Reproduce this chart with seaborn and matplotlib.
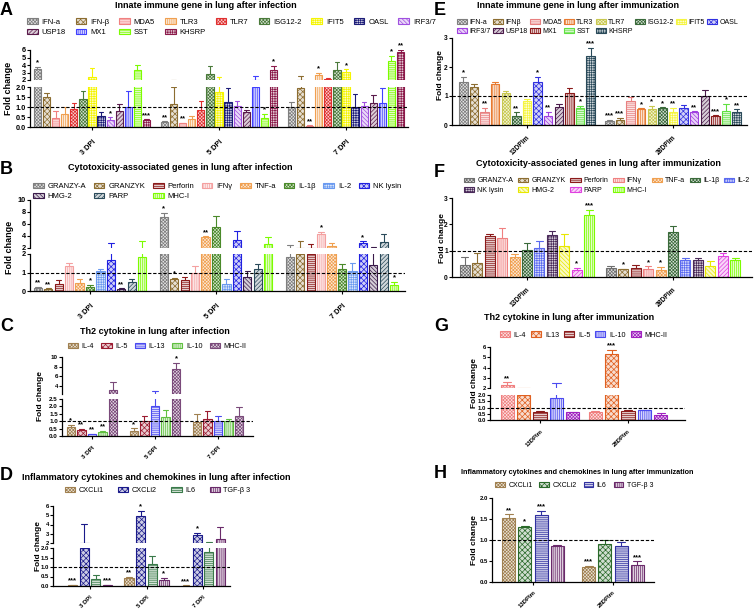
import pandas as pd
import matplotlib
matplotlib.use('Agg')
import matplotlib.pyplot as plt
import matplotlib.patches as mpatches
import matplotlib.colors as mcolors
import seaborn as sns

# ---------------- data ----------------
DPI_days = ['3 DPI', '5 DPI', '7 DPI']
IMM_days = ['13DPIm', '28DPIm']

# A: innate immune genes after infection
A_genes = ['IFN-a', 'IFN-β', 'MDA5', 'TLR3', 'TLR7', 'ISG12-2', 'IFIT5', 'OASL',
           'IRF3/7', 'USP18', 'MX1', 'SST', 'KHSRP']
A_mean = [[3.5, 1.48, 0.43, 0.67, 0.9, 1.42, 2.4, 0.55, 0.35, 0.8, 1.0, 3.4, 0.33],
          [0.23, 1.15, 0.18, 0.38, 0.83, 2.8, 1.77, 1.27, 1.05, 0.75, 2.0, 0.45, 3.4],
          [1.0, 1.95, 0.07, 2.7, 2.08, 3.4, 3.1, 1.02, 1.05, 1.22, 1.2, 4.5, 5.7]]
A_err = [[3.75, 1.68, 0.8, 0.98, 1.18, 1.8, 3.6, 0.77, 0.48, 1.13, 1.78, 4.0, 0.38],
         [0.28, 1.98, 0.22, 0.55, 1.3, 3.93, 2.4, 1.93, 1.28, 0.85, 2.5, 0.65, 3.87],
         [1.25, 2.5, 0.09, 2.97, 2.3, 4.4, 3.43, 1.63, 1.27, 1.62, 1.93, 5.2, 6.0]]
A_sig = [['*', '', '', '', '', '', '', '', '*', '', '', '', '***'],
         ['**', '', '**', '', '', '', '', '', '', '', '', '*', '*'],
         ['', '', '**', '*', '', '', '*', '', '', '', '', '*', '**']]
A_colors = ['#7f7f7f', '#8c6d31', '#f08080', '#f0a050', '#e03030', '#4a7a3a', '#f5f500',
            '#1c1c78', '#a050e0', '#5a1a4a', '#4040ff', '#7cfc00', '#8b1a4a']

# B: cytotoxicity genes after infection
B_genes = ['GRANZY-A', 'GRANZYK', 'Perforin', 'IFNγ', 'TNF-a', 'IL-1β', 'IL-2', 'NK lysin',
           'HMG-2', 'PARP', 'MHC-I']
B_mean = [[0.18, 0.11, 0.4, 1.33, 0.42, 0.24, 1.09, 1.69, 0.12, 0.5, 1.82],
          [7.1, 0.67, 0.62, 0.96, 3.8, 5.5, 0.4, 3.4, 0.75, 1.18, 2.67],
          [1.85, 2.0, 2.0, 4.4, 2.28, 1.18, 1.09, 2.84, 1.42, 3.0, 0.33]]
B_err = [[0.24, 0.14, 0.6, 1.5, 0.65, 0.33, 1.18, 2.9, 0.15, 0.63, 3.2],
         [7.9, 0.72, 0.76, 1.33, 3.95, 7.3, 0.63, 4.85, 1.09, 1.47, 3.85],
         [2.45, 3.1, 2.6, 4.7, 2.9, 1.47, 1.5, 3.1, 2.17, 4.3, 0.5]]
B_sig = [['**', '**', '', '', '', '*', '', '', '**', '', ''],
         ['*', '*', '', '', '**', '', '', '', '', '', ''],
         ['', '', '', '*', '', '', '', '*', '', '', '*']]
B_colors = ['#7f7f7f', '#8c6d31', '#8b1a1a', '#f4a0a0', '#f0a050', '#4a8a2a', '#6a9af0',
            '#2020e0', '#3a1a4a', '#2a4a5a', '#7cfc00']

# C: Th2 cytokines after infection
C_genes = ['IL-4', 'IL-5', 'IL-13', 'IL-10', 'MHC-II']
C_mean = [[0.61, 0.43, 0.11, 0.3, 3.2], [0.36, 0.98, 2.03, 1.27, 7.4], [0.95, 1.18, 1.02, 1.0, 1.38]]
C_err = [[0.77, 0.48, 0.15, 0.36, 4.9], [0.52, 1.32, 2.85, 1.77, 8.8], [1.5, 1.68, 1.35, 1.17, 1.97]]
C_sig = [['*', '**', '**', '**', ''], ['*', '', '', '', '*'], ['', '', '', '', '']]
C_colors = ['#a08050', '#9b1b30', '#4a4af0', '#60c040', '#7a4a7a']

# D: inflammatory cytokines after infection
D_genes = ['CXCLi1', 'CXCLi2', 'IL6', 'TGF-β 3']
D_mean = [[0.04, 2.0, 0.39, 0.04], [0.44, 4.95, 1.17, 0.34], [0.02, 2.9, 1.8, 2.47]]
D_err = [[0.05, 4.05, 0.6, 0.05], [0.5, 5.5, 1.58, 0.42], [0.03, 3.1, 2.1, 3.77]]
D_sig = [['***', '', '', '***'], ['**', '*', '', '*'], ['***', '*', '', '']]
D_colors = ['#a08050', '#1a1a8a', '#3a7a4a', '#6a2a6a']

# E: innate immune genes after immunization
E_genes = ['IFN-a', 'IFNβ', 'MDA5', 'TLR3', 'TLR7', 'ISG12-2', 'IFIT5', 'OASL',
           'IRF3/7', 'USP18', 'MX1', 'SST', 'KHSRP']
E_mean = [[1.5, 1.3, 0.46, 1.4, 1.1, 0.32, 0.83, 1.49, 0.32, 0.63, 1.1, 0.58, 2.39],
          [0.15, 0.17, 0.84, 0.54, 0.54, 0.6, 0.45, 0.6, 0.46, 1.0, 0.32, 0.5, 0.44]]
E_err = [[1.65, 1.42, 0.6, 1.49, 1.17, 0.44, 0.9, 1.65, 0.45, 0.74, 1.27, 0.65, 2.67],
         [0.17, 0.25, 0.96, 0.58, 0.66, 0.61, 0.6, 0.68, 0.47, 1.19, 0.33, 0.72, 0.54]]
E_sig = [['*', '', '**', '', '', '**', '', '*', '**', '', '', '*', '***'],
         ['***', '***', '', '*', '*', '*', '**', '', '**', '', '***', '*', '**']]
E_colors = ['#7f7f7f', '#8c6d31', '#e88080', '#e87a30', '#c8c850', '#3a6a3a', '#f5f540',
            '#3030e0', '#a040e0', '#4a1a4a', '#8b1a1a', '#60e040', '#2a4a5a']

# F: cytotoxicity genes after immunization
F_genes = ['GRANZY-A', 'GRANZYK', 'Perforin', 'IFNγ', 'TNF-a', 'IL-1β', 'IL-2', 'NK lysin',
           'HMG-2', 'PARP', 'MHC-I']
F_mean = [[0.45, 0.55, 1.56, 1.49, 0.75, 1.03, 1.11, 1.58, 1.17, 0.28, 2.36],
          [0.36, 0.29, 0.36, 0.32, 0.27, 1.7, 0.64, 0.64, 0.42, 0.8, 0.64]]
F_err = [[0.75, 0.93, 1.62, 1.85, 0.89, 1.28, 1.38, 1.75, 1.65, 0.34, 2.54],
         [0.41, 0.32, 0.45, 0.41, 0.38, 1.92, 0.73, 0.72, 0.6, 0.93, 0.72]]
F_sig = [['', '', '', '', '', '', '', '', '', '*', '***'],
         ['', '*', '', '*', '*', '', '', '', '', '', '']]
F_colors = ['#6f6f6f', '#8c6d31', '#8b1a1a', '#f08080', '#f0a050', '#3a6a3a', '#5a6af0',
            '#4a2a5a', '#e8e800', '#e040e0', '#7cfc00']

# G: Th2 cytokines after immunization
G_genes = ['IL-4', 'IL13', 'IL-5', 'IL-10', 'MHC-II']
G_mean = [[2.32, 1.97, 0.61, 1.76, 0.61], [0.64, 5.36, 0.72, 0.77, 0.4]]
G_err = [[2.55, 1.97, 0.72, 2.5, 0.63], [0.72, 5.7, 0.77, 0.8, 0.53]]
G_sig = [['**', '', '', '', ''], ['', '***', '', '', '']]
G_colors = ['#f08080', '#e06020', '#8b1a1a', '#4a4af0', '#a020c0']

# H: inflammatory cytokines after immunization
H_genes = ['CXCLi1', 'CXCLi2', 'IL6', 'TGF-β 3']
H_mean = [[1.52, 1.3, 1.6, 0.85], [0.35, 0.9, 0.86, 0.41]]
H_err = [[1.61, 1.33, 1.7, 0.87], [0.39, 0.99, 0.95, 0.49]]
H_sig = [['**', '*', '***', ''], ['***', '', '', '***']]
H_colors = ['#a08050', '#2a6a2a', '#3030a0', '#6a2a6a']

# hatch styles
DENSE, CHECK, HLINE, VLINE = 'x' * 10, 'x' * 6, '-' * 8, '|' * 8
GRID, BACK, FWD = '+' * 7, '\\' * 8, '/' * 8
A_hatch = [DENSE, CHECK, HLINE, VLINE, DENSE, DENSE, GRID, GRID, BACK, FWD, VLINE, HLINE, GRID]
B_hatch = [DENSE, CHECK, HLINE, VLINE, DENSE, DENSE, GRID, CHECK, BACK, FWD, VLINE]
C_hatch = [DENSE, CHECK, HLINE, VLINE, DENSE]
D_hatch = [DENSE, CHECK, HLINE, VLINE]
E_hatch = [DENSE, CHECK, HLINE, VLINE, DENSE, DENSE, GRID, CHECK, BACK, FWD, VLINE, HLINE, GRID]
F_hatch = [DENSE, CHECK, HLINE, VLINE, DENSE, DENSE, GRID, GRID, BACK, FWD, VLINE]
G_hatch = [DENSE, CHECK, HLINE, VLINE, DENSE]
H_hatch = [DENSE, CHECK, HLINE, VLINE]

# ---------------- drawing ----------------
W, H = 755, 609
sns.set_style('ticks')
plt.rcParams['font.family'] = ['Liberation Sans', 'DejaVu Sans']
plt.rcParams['hatch.linewidth'] = 0.5
plt.rcParams['text.color'] = 'black'

fig = plt.figure(figsize=(W / 100, H / 100), dpi=100)


def tint(c, k=0.22):
    r, g, b = mcolors.to_rgb(c)
    return (1 - k + k * r, 1 - k + k * g, 1 - k + k * b)


def rect(x0, y0, x1, y1):
    return [x0 / W, 1 - y1 / H, (x1 - x0) / W, (y1 - y0) / H]


def style_axis(ax, lim, ticks, fmt, xlim, bottom, fs):
    ax.set_xlim(xlim)
    ax.set_ylim(lim)
    ax.set_yticks(ticks)
    ax.set_yticklabels([fmt % t for t in ticks], fontweight='bold')
    ax.set_xlabel('')
    ax.set_ylabel('')
    ax.patch.set_alpha(0)
    for sp in ['top', 'right']:
        ax.spines[sp].set_visible(False)
    ax.spines['left'].set_color('black')
    ax.spines['left'].set_linewidth(0.9)
    ax.tick_params(axis='y', left=True, length=2, width=0.8, pad=1, labelsize=fs, colors='black')
    if bottom:
        ax.spines['bottom'].set_color('black')
        ax.spines['bottom'].set_linewidth(0.9)
    else:
        ax.spines['bottom'].set_visible(False)
        ax.set_xticks([])


def bar_panel(genes, days, mean, err, sig, colors, hatches, xs, low_y, low_lim, low_ticks,
              low_fmt, up_y=None, up_lim=None, up_ticks=None, width=0.9, fs=5, xpad=1.5):
    x0, x1, c0, step = xs
    xlim = ((x0 - c0) / step, (x1 - c0) / step)
    df = pd.DataFrame({'day': [d for d in days for g in genes],
                       'gene': [g for d in days for g in genes],
                       'fold': [v for row in mean for v in row]})
    pal = dict(zip(genes, colors))
    low = fig.add_axes(rect(x0, low_y[0], x1, low_y[1]))
    panes = [(low, low_lim, low_ticks, low_fmt, True)]
    up = None
    if up_y is not None:
        up = fig.add_axes(rect(x0, up_y[0], x1, up_y[1]))
        panes.append((up, up_lim, up_ticks, '%d', False))
    stars = []
    for ax, lim, ticks, fmt, bottom in panes:
        sns.barplot(data=df, x='day', y='fold', hue='gene', order=days, hue_order=genes,
                    palette=pal, width=width, gap=0.2, errorbar=None, saturation=1,
                    legend=False, ax=ax)
        for i, cont in enumerate(ax.containers):
            for bar in cont:
                xc = bar.get_x() + bar.get_width() / 2
                j = int(round(xc))
                bar.set_facecolor(tint(colors[i]))
                bar.set_edgecolor(colors[i])
                bar.set_hatch(hatches[i])
                bar.set_linewidth(0.8)
                v, e = mean[j][i], err[j][i]
                if e > v:
                    hw = bar.get_width() * 0.32
                    ax.plot([xc, xc], [v, e], color=colors[i], lw=0.8)
                    ax.plot([xc - hw, xc + hw], [e, e], color=colors[i], lw=0.8)
                if bottom and sig[j][i]:
                    stars.append((xc, max(v, e), sig[j][i]))
        style_axis(ax, lim, ticks, fmt, xlim, bottom, fs)
    low.axhline(1, color='black', lw=0.8, ls=(0, (3, 1.6)), zorder=5)
    low.set_xticks(range(len(days)))
    low.set_xticklabels(days, rotation=45, ha='right', rotation_mode='anchor',
                        fontsize=fs, fontweight='bold')
    low.tick_params(axis='x', bottom=True, length=2.5, width=0.8, pad=xpad, colors='black')
    for xc, top, s in stars:
        ax = up if (up is not None and top > low_lim[1]) else low
        ax.annotate(s, (xc, top), xytext=(0, 0.3), textcoords='offset points', ha='center',
                    va='bottom', fontsize=5.5, fontweight='bold', annotation_clip=False)
    return low


def add_legend(genes, colors, hatches, x, y, ncol, fs=5.5, colsp=1.0, hl=1.4, tp=0.5):
    handles = [mpatches.Patch(facecolor=tint(c), edgecolor=c, hatch=h, lw=0.8)
               for c, h in zip(colors, hatches)]
    n = len(handles)
    rows = -(-n // ncol)
    order = [r * ncol + c for c in range(ncol) for r in range(rows) if r * ncol + c < n]
    fig.legend([handles[i] for i in order], [genes[i] for i in order], loc='upper left',
               bbox_to_anchor=(x / W, 1 - y / H), ncol=ncol, frameon=False, fontsize=fs,
               handlelength=hl, handleheight=0.7, handletextpad=tp, columnspacing=colsp,
               borderpad=0, borderaxespad=0, labelspacing=0.35)


def label(letter, x, y, title, tx, ty, fx, fy, tfs=6.5, lfs=6.5):
    fig.text(x / W, 1 - y / H, letter, fontsize=13, fontweight='bold', va='top', ha='left')
    fig.text(tx / W, 1 - ty / H, title, fontsize=tfs, fontweight='bold', ha='center', va='center')
    fig.text(fx / W, 1 - fy / H, 'Fold change', fontsize=lfs, fontweight='bold', rotation=90,
             ha='center', va='center')


# A
bar_panel(A_genes, DPI_days, A_mean, A_err, A_sig, A_colors, A_hatch, (30, 408, 92, 127),
          (87, 127), (0, 2), [0, 0.5, 1, 1.5, 2], '%.1f', (50, 80), (2, 6), [2, 3, 4, 5, 6],
          width=0.93, fs=5.3, xpad=6)
add_legend(A_genes, A_colors, A_hatch, 27, 18.5, 9, colsp=1.3)
label('A', 0, 2, 'Innate immune gene in lung after infection', 206, 6, 9, 88)

# B
bar_panel(B_genes, DPI_days, B_mean, B_err, B_sig, B_colors, B_hatch, (30, 405, 90, 126),
          (254, 291), (0, 2), [0, 1, 2], '%d', (200, 248), (2, 10), [2, 4, 6, 8, 10],
          width=0.91, fs=5.3, xpad=6)
add_legend(B_genes, B_colors, B_hatch, 33, 182.5, 8)
label('B', 0, 161, 'Cytotoxicity-associated genes in lung after infection', 180, 168, 10, 247)

# C
bar_panel(C_genes, DPI_days, C_mean, C_err, C_sig, C_colors, C_hatch, (62, 253, 92, 63),
          (399, 436), (0, 2.5), [0, 0.5, 1, 1.5, 2, 2.5], '%.1f', (357, 394), (2.3, 10),
          [4, 6, 8, 10], width=0.84, fs=4.5, xpad=4)
add_legend(C_genes, C_colors, C_hatch, 68, 343, 5, fs=5.2)
label('C', 0, 318, 'Th2 cytokine in lung after infection', 155, 332, 40, 396, lfs=6)

# D
bar_panel(D_genes, DPI_days, D_mean, D_err, D_sig, D_colors, D_hatch, (53, 230, 90, 56.5),
          (548, 586), (0, 2), [0, 0.5, 1, 1.5, 2], '%.1f', (506, 543), (2, 6), [2, 3, 4, 5, 6],
          width=0.82, fs=4.3, xpad=4)
add_legend(D_genes, D_colors, D_hatch, 65, 486.5, 4, fs=5.2, colsp=2.0)
label('D', 0, 467, 'Inflammatory cytokines and chemokines in lung after infection', 156, 477,
      38, 546, lfs=6)

# E
bar_panel(E_genes, IMM_days, E_mean, E_err, E_sig, E_colors, E_hatch, (452, 747, 527, 146),
          (38, 125), (0, 3), [0, 1, 2, 3], '%d', width=0.945, fs=4.8, xpad=4)
add_legend(E_genes, E_colors, E_hatch, 457, 18.5, 8, fs=5, colsp=0.3, hl=1.5, tp=0.3)
label('E', 434, 2, 'Innate immune gene in lung after immunization', 578, 5, 441, 75, lfs=6)

# F
bar_panel(F_genes, IMM_days, F_mean, F_err, F_sig, F_colors, F_hatch, (452, 752, 527, 146),
          (198, 277), (0, 3), [0, 1, 2, 3], '%d', width=0.94, fs=4.8, xpad=4)
add_legend(F_genes, F_colors, F_hatch, 464, 177.5, 7, fs=5, colsp=0.7, hl=1.5, tp=0.4)
label('F', 434, 164, 'Cytotoxicity-associated genes in lung after immunization', 598, 164,
      442, 238, lfs=6)

# G
bar_panel(G_genes, IMM_days, G_mean, G_err, G_sig, G_colors, G_hatch, (490, 685, 540, 88),
          (395, 420), (0, 2), [0, 0.5, 1, 1.5, 2], '%.1f', (347, 388), (2, 6), [2, 3, 4, 5, 6],
          width=0.93, fs=4.3, xpad=4)
add_legend(G_genes, G_colors, G_hatch, 500, 331.5, 5, fs=5.2, colsp=0.7)
label('G', 434, 318, 'Th2 cytokine in lung after immunization', 569, 318, 474, 383, lfs=6)

# H
bar_panel(H_genes, IMM_days, H_mean, H_err, H_sig, H_colors, H_hatch, (492, 654, 533, 80),
          (498, 582), (0, 2), [0, 0.5, 1, 1.5, 2], '%.1f', width=0.81, fs=4.3, xpad=3)
add_legend(H_genes, H_colors, H_hatch, 495, 482, 4, fs=5)
label('H', 434, 465, 'Inflammatory cytokines and chemokines in lung after immunization', 577,
      473, 474, 540, tfs=5.2, lfs=6)

fig.savefig('out.png', dpi=100, facecolor='white')
